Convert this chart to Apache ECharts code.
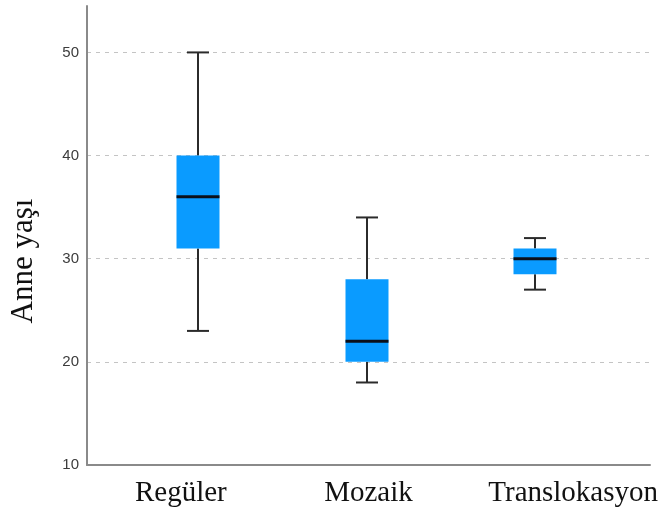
<!DOCTYPE html>
<html>
<head>
<meta charset="utf-8">
<script src="https://cdn.jsdelivr.net/npm/echarts@6/dist/echarts.min.js"></script>
<style>
  html, body { margin: 0; padding: 0; background: #fff; }
  #chart { width: 665px; height: 517px; }
</style>
</head>
<body>
<div id="chart"></div>
<script>
// Anne yaşı by group: whisker ends, quartiles and median
const categories = ['Regüler', 'Mozaik', 'Translokasyon'];
const whiskerLow  = [23, 18, 27];
const quartile1   = [31, 20, 28.5];
const medians     = [36, 22, 30];
const quartile3   = [40, 28, 31];
const whiskerHigh = [50, 34, 32];
const yTicks = [10, 20, 30, 40, 50];

const boxData = categories.map((c, i) => [i, whiskerLow[i], quartile1[i], medians[i], quartile3[i], whiskerHigh[i]]);

const BOX_W = 43;
const CAP_W = 22;
const WHISKER = { stroke: '#2b2b2b', lineWidth: 2 };

function renderBox(params, api) {
  const i = api.value(0);
  const lo = api.coord([i, api.value(1)]);
  const b1 = api.coord([i, api.value(2)]);
  const md = api.coord([i, api.value(3)]);
  const b3 = api.coord([i, api.value(4)]);
  const hi = api.coord([i, api.value(5)]);
  const x = Math.round(lo[0]);
  const line = (x1, y1, x2, y2, style) => ({
    type: 'line', shape: { x1, y1, x2, y2 }, style
  });
  return {
    type: 'group',
    children: [
      line(x, hi[1], x, b3[1], WHISKER),
      line(x, b1[1], x, lo[1], WHISKER),
      line(x - CAP_W / 2, hi[1], x + CAP_W / 2, hi[1], WHISKER),
      line(x - CAP_W / 2, lo[1], x + CAP_W / 2, lo[1], WHISKER),
      {
        type: 'rect',
        shape: { x: x - BOX_W / 2, y: b3[1], width: BOX_W, height: b1[1] - b3[1] },
        style: { fill: '#0a9bff' }
      },
      line(x - BOX_W / 2, md[1], x + BOX_W / 2, md[1], { stroke: '#0b0f1a', lineWidth: 3 })
    ]
  };
}

const yRange = { min: yTicks[0], max: 54.5, interval: 10 };

const chart = echarts.init(document.getElementById('chart'));
chart.setOption({
  animation: false,
  backgroundColor: '#ffffff',
  grid: [
    { left: 87, right: 15, top: 6, bottom: 52 },
    { left: 114, right: 46, top: 6, bottom: 52 }
  ],
  xAxis: [
    {
      type: 'category', gridIndex: 0, data: categories, boundaryGap: true,
      axisLine: { show: true, lineStyle: { color: '#8a8a8a', width: 2 } },
      axisTick: { show: false },
      splitLine: { show: false },
      axisLabel: {
        interval: 0,
        hideOverlap: false,
        margin: 14,
        color: '#111',
        fontFamily: 'Liberation Serif',
        fontSize: 29,
        formatter: (v, idx) => idx === categories.length - 1 ? '{last|' + v + '}' : v,
        rich: {
          last: { fontFamily: 'Liberation Serif', fontSize: 29, color: '#111', padding: [0, 0, 0, 34] }
        }
      }
    },
    {
      type: 'category', gridIndex: 1, data: categories, boundaryGap: true,
      axisLine: { show: false }, axisTick: { show: false }, axisLabel: { show: false },
      splitLine: { show: false }
    }
  ],
  yAxis: [
    Object.assign({
      type: 'value', gridIndex: 0,
      axisLine: { show: true, lineStyle: { color: '#8a8a8a', width: 2 } },
      axisTick: { show: false },
      axisLabel: {
        margin: 8, color: '#3c3c3c', fontFamily: 'Liberation Sans', fontSize: 15,
        formatter: v => (yTicks.indexOf(v) >= 0 ? String(v) : '')
      },
      splitLine: {
        show: true, showMinLine: false, showMaxLine: false,
        lineStyle: { color: '#c4c4c4', type: [4, 5], width: 1 }
      }
    }, yRange),
    Object.assign({
      type: 'value', gridIndex: 1, show: false,
      splitLine: { show: false }
    }, yRange)
  ],
  graphic: [
    {
      type: 'text', x: 24, y: 261, rotation: Math.PI / 2,
      style: {
        text: 'Anne yaşı', fill: '#111',
        font: '31px "Liberation Serif"',
        textAlign: 'center', textVerticalAlign: 'middle'
      }
    }
  ],
  series: [
    {
      type: 'custom', xAxisIndex: 1, yAxisIndex: 1,
      data: boxData,
      encode: { x: 0, y: [1, 2, 3, 4, 5] },
      renderItem: renderBox
    }
  ]
});
</script>
</body>
</html>
